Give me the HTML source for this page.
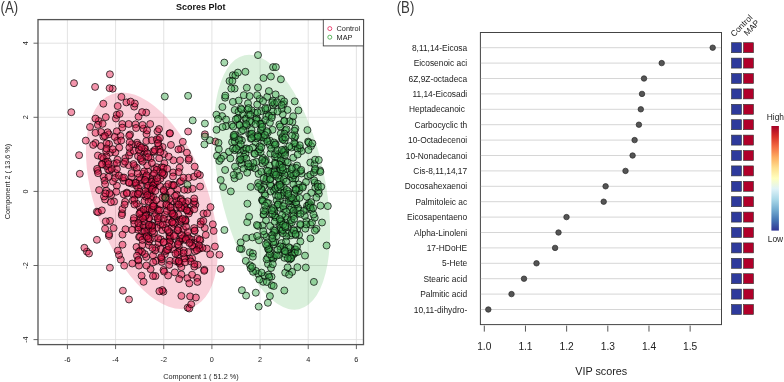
<!DOCTYPE html><html><head><meta charset="utf-8"><style>html,body{margin:0;padding:0;background:#fff;width:784px;height:382px;overflow:hidden}svg{display:block;will-change:transform}text{font-family:"Liberation Sans",sans-serif}</style></head><body>
<svg width="784" height="382" viewBox="0 0 784 382">
<text x="0.6" y="12.7" font-size="16.3" fill="#3a3a3a" textLength="17.6" lengthAdjust="spacingAndGlyphs">(A)</text>
<text x="396.7" y="12.7" font-size="16.3" fill="#3a3a3a" textLength="17.6" lengthAdjust="spacingAndGlyphs">(B)</text>
<text x="200.8" y="9.6" font-size="9" font-weight="bold" text-anchor="middle" fill="#111">Scores Plot</text>
<line x1="67.42" y1="19.6" x2="67.42" y2="344.6" stroke="#dcdcdc" stroke-width="0.8"/>
<line x1="115.58" y1="19.6" x2="115.58" y2="344.6" stroke="#dcdcdc" stroke-width="0.8"/>
<line x1="163.74" y1="19.6" x2="163.74" y2="344.6" stroke="#dcdcdc" stroke-width="0.8"/>
<line x1="211.90" y1="19.6" x2="211.90" y2="344.6" stroke="#dcdcdc" stroke-width="0.8"/>
<line x1="260.06" y1="19.6" x2="260.06" y2="344.6" stroke="#dcdcdc" stroke-width="0.8"/>
<line x1="308.22" y1="19.6" x2="308.22" y2="344.6" stroke="#dcdcdc" stroke-width="0.8"/>
<line x1="356.38" y1="19.6" x2="356.38" y2="344.6" stroke="#dcdcdc" stroke-width="0.8"/>
<line x1="38.0" y1="339.60" x2="363.5" y2="339.60" stroke="#dcdcdc" stroke-width="0.8"/>
<line x1="38.0" y1="265.50" x2="363.5" y2="265.50" stroke="#dcdcdc" stroke-width="0.8"/>
<line x1="38.0" y1="191.40" x2="363.5" y2="191.40" stroke="#dcdcdc" stroke-width="0.8"/>
<line x1="38.0" y1="117.30" x2="363.5" y2="117.30" stroke="#dcdcdc" stroke-width="0.8"/>
<line x1="38.0" y1="43.20" x2="363.5" y2="43.20" stroke="#dcdcdc" stroke-width="0.8"/>
<defs><clipPath id="clipA"><rect x="38" y="19.6" width="325.5" height="325"/></clipPath></defs>
<g clip-path="url(#clipA)">
<ellipse cx="151.9" cy="200.8" rx="113.8" ry="56.0" transform="rotate(69.4 151.9 200.8)" fill="rgba(228,20,70,0.2)"/>
<ellipse cx="271.8" cy="182.2" rx="129.9" ry="52.7" transform="rotate(77.9 271.8 182.2)" fill="rgba(70,180,80,0.2)"/>
<g fill="rgba(228,20,70,0.45)" stroke="#000" stroke-width="0.7">
<circle cx="149.2" cy="209.6" r="3.5"/>
<circle cx="130.1" cy="134.5" r="3.5"/>
<circle cx="155.5" cy="276.0" r="3.5"/>
<circle cx="163.4" cy="291.7" r="3.5"/>
<circle cx="116.9" cy="185.7" r="3.5"/>
<circle cx="178.3" cy="230.5" r="3.5"/>
<circle cx="181.3" cy="267.1" r="3.5"/>
<circle cx="169.3" cy="238.8" r="3.5"/>
<circle cx="162.6" cy="147.0" r="3.5"/>
<circle cx="164.4" cy="163.3" r="3.5"/>
<circle cx="98.7" cy="121.0" r="3.5"/>
<circle cx="163.1" cy="171.8" r="3.5"/>
<circle cx="199.4" cy="248.8" r="3.5"/>
<circle cx="153.0" cy="175.0" r="3.5"/>
<circle cx="179.9" cy="241.4" r="3.5"/>
<circle cx="123.7" cy="180.8" r="3.5"/>
<circle cx="108.9" cy="134.3" r="3.5"/>
<circle cx="172.8" cy="201.2" r="3.5"/>
<circle cx="95.1" cy="86.9" r="3.5"/>
<circle cx="139.8" cy="219.1" r="3.5"/>
<circle cx="109.6" cy="170.4" r="3.5"/>
<circle cx="153.1" cy="196.9" r="3.5"/>
<circle cx="146.6" cy="214.8" r="3.5"/>
<circle cx="166.3" cy="186.8" r="3.5"/>
<circle cx="113.6" cy="228.1" r="3.5"/>
<circle cx="97.9" cy="124.9" r="3.5"/>
<circle cx="136.5" cy="247.0" r="3.5"/>
<circle cx="146.4" cy="232.4" r="3.5"/>
<circle cx="141.2" cy="160.0" r="3.5"/>
<circle cx="173.1" cy="249.4" r="3.5"/>
<circle cx="115.9" cy="118.5" r="3.5"/>
<circle cx="178.7" cy="227.8" r="3.5"/>
<circle cx="129.2" cy="135.7" r="3.5"/>
<circle cx="123.8" cy="194.4" r="3.5"/>
<circle cx="164.1" cy="154.0" r="3.5"/>
<circle cx="142.2" cy="245.1" r="3.5"/>
<circle cx="97.6" cy="170.9" r="3.5"/>
<circle cx="139.9" cy="225.9" r="3.5"/>
<circle cx="159.8" cy="171.4" r="3.5"/>
<circle cx="140.1" cy="212.7" r="3.5"/>
<circle cx="179.8" cy="182.1" r="3.5"/>
<circle cx="188.6" cy="177.7" r="3.5"/>
<circle cx="133.6" cy="220.3" r="3.5"/>
<circle cx="162.3" cy="290.1" r="3.5"/>
<circle cx="105.1" cy="228.8" r="3.5"/>
<circle cx="164.4" cy="196.7" r="3.5"/>
<circle cx="187.4" cy="278.2" r="3.5"/>
<circle cx="189.4" cy="258.5" r="3.5"/>
<circle cx="199.4" cy="248.0" r="3.5"/>
<circle cx="171.6" cy="227.4" r="3.5"/>
<circle cx="144.4" cy="180.3" r="3.5"/>
<circle cx="181.0" cy="198.7" r="3.5"/>
<circle cx="144.3" cy="236.7" r="3.5"/>
<circle cx="131.9" cy="183.6" r="3.5"/>
<circle cx="186.9" cy="152.7" r="3.5"/>
<circle cx="168.1" cy="219.4" r="3.5"/>
<circle cx="212.8" cy="224.3" r="3.5"/>
<circle cx="156.7" cy="167.2" r="3.5"/>
<circle cx="117.3" cy="140.8" r="3.5"/>
<circle cx="85.8" cy="140.6" r="3.5"/>
<circle cx="184.8" cy="258.4" r="3.5"/>
<circle cx="177.8" cy="254.5" r="3.5"/>
<circle cx="125.5" cy="229.3" r="3.5"/>
<circle cx="152.5" cy="179.0" r="3.5"/>
<circle cx="181.0" cy="148.9" r="3.5"/>
<circle cx="140.5" cy="152.9" r="3.5"/>
<circle cx="200.8" cy="221.5" r="3.5"/>
<circle cx="184.3" cy="236.7" r="3.5"/>
<circle cx="148.9" cy="245.2" r="3.5"/>
<circle cx="170.4" cy="240.2" r="3.5"/>
<circle cx="160.9" cy="239.4" r="3.5"/>
<circle cx="134.1" cy="165.9" r="3.5"/>
<circle cx="165.5" cy="194.2" r="3.5"/>
<circle cx="134.2" cy="106.6" r="3.5"/>
<circle cx="120.5" cy="135.9" r="3.5"/>
<circle cx="191.5" cy="239.6" r="3.5"/>
<circle cx="139.1" cy="237.0" r="3.5"/>
<circle cx="173.2" cy="172.5" r="3.5"/>
<circle cx="182.8" cy="141.8" r="3.5"/>
<circle cx="173.1" cy="184.7" r="3.5"/>
<circle cx="204.9" cy="134.3" r="3.5"/>
<circle cx="161.2" cy="258.1" r="3.5"/>
<circle cx="181.4" cy="274.4" r="3.5"/>
<circle cx="184.7" cy="208.4" r="3.5"/>
<circle cx="102.5" cy="164.6" r="3.5"/>
<circle cx="143.0" cy="173.7" r="3.5"/>
<circle cx="108.9" cy="235.9" r="3.5"/>
<circle cx="189.3" cy="211.2" r="3.5"/>
<circle cx="156.1" cy="247.7" r="3.5"/>
<circle cx="117.5" cy="159.7" r="3.5"/>
<circle cx="185.7" cy="203.1" r="3.5"/>
<circle cx="138.0" cy="156.1" r="3.5"/>
<circle cx="151.6" cy="225.2" r="3.5"/>
<circle cx="136.3" cy="182.8" r="3.5"/>
<circle cx="103.4" cy="136.7" r="3.5"/>
<circle cx="151.3" cy="199.8" r="3.5"/>
<circle cx="166.2" cy="198.4" r="3.5"/>
<circle cx="158.3" cy="140.0" r="3.5"/>
<circle cx="195.4" cy="204.7" r="3.5"/>
<circle cx="95.5" cy="143.0" r="3.5"/>
<circle cx="148.1" cy="171.7" r="3.5"/>
<circle cx="101.0" cy="132.0" r="3.5"/>
<circle cx="157.5" cy="131.3" r="3.5"/>
<circle cx="141.2" cy="218.5" r="3.5"/>
<circle cx="131.5" cy="177.0" r="3.5"/>
<circle cx="148.7" cy="233.0" r="3.5"/>
<circle cx="194.8" cy="242.9" r="3.5"/>
<circle cx="145.6" cy="209.6" r="3.5"/>
<circle cx="152.8" cy="207.9" r="3.5"/>
<circle cx="160.8" cy="249.0" r="3.5"/>
<circle cx="181.2" cy="238.8" r="3.5"/>
<circle cx="151.2" cy="226.3" r="3.5"/>
<circle cx="188.0" cy="252.1" r="3.5"/>
<circle cx="140.2" cy="250.6" r="3.5"/>
<circle cx="178.3" cy="214.8" r="3.5"/>
<circle cx="157.6" cy="209.1" r="3.5"/>
<circle cx="121.2" cy="140.5" r="3.5"/>
<circle cx="136.7" cy="167.8" r="3.5"/>
<circle cx="146.1" cy="214.9" r="3.5"/>
<circle cx="161.7" cy="167.3" r="3.5"/>
<circle cx="178.1" cy="262.0" r="3.5"/>
<circle cx="197.2" cy="277.9" r="3.5"/>
<circle cx="109.0" cy="144.0" r="3.5"/>
<circle cx="134.8" cy="103.5" r="3.5"/>
<circle cx="128.8" cy="182.3" r="3.5"/>
<circle cx="145.5" cy="226.9" r="3.5"/>
<circle cx="156.0" cy="260.9" r="3.5"/>
<circle cx="146.7" cy="237.0" r="3.5"/>
<circle cx="113.0" cy="181.6" r="3.5"/>
<circle cx="178.8" cy="246.0" r="3.5"/>
<circle cx="172.2" cy="212.9" r="3.5"/>
<circle cx="115.4" cy="173.1" r="3.5"/>
<circle cx="177.1" cy="204.3" r="3.5"/>
<circle cx="187.7" cy="307.7" r="3.5"/>
<circle cx="154.6" cy="185.9" r="3.5"/>
<circle cx="137.0" cy="142.7" r="3.5"/>
<circle cx="99.1" cy="190.1" r="3.5"/>
<circle cx="210.5" cy="207.1" r="3.5"/>
<circle cx="173.0" cy="176.4" r="3.5"/>
<circle cx="126.9" cy="192.6" r="3.5"/>
<circle cx="93.2" cy="144.9" r="3.5"/>
<circle cx="190.7" cy="242.4" r="3.5"/>
<circle cx="146.2" cy="256.9" r="3.5"/>
<circle cx="145.1" cy="148.7" r="3.5"/>
<circle cx="144.8" cy="254.1" r="3.5"/>
<circle cx="135.1" cy="194.7" r="3.5"/>
<circle cx="148.9" cy="241.5" r="3.5"/>
<circle cx="108.2" cy="169.6" r="3.5"/>
<circle cx="125.3" cy="158.2" r="3.5"/>
<circle cx="187.6" cy="236.0" r="3.5"/>
<circle cx="176.8" cy="200.9" r="3.5"/>
<circle cx="138.2" cy="260.5" r="3.5"/>
<circle cx="144.5" cy="201.1" r="3.5"/>
<circle cx="150.5" cy="192.8" r="3.5"/>
<circle cx="132.6" cy="200.6" r="3.5"/>
<circle cx="154.1" cy="237.9" r="3.5"/>
<circle cx="154.3" cy="169.0" r="3.5"/>
<circle cx="181.4" cy="295.9" r="3.5"/>
<circle cx="176.7" cy="207.4" r="3.5"/>
<circle cx="139.7" cy="180.5" r="3.5"/>
<circle cx="204.3" cy="269.8" r="3.5"/>
<circle cx="103.6" cy="158.4" r="3.5"/>
<circle cx="172.0" cy="222.1" r="3.5"/>
<circle cx="173.6" cy="216.9" r="3.5"/>
<circle cx="154.4" cy="151.8" r="3.5"/>
<circle cx="119.2" cy="147.6" r="3.5"/>
<circle cx="163.0" cy="175.5" r="3.5"/>
<circle cx="163.5" cy="270.0" r="3.5"/>
<circle cx="148.9" cy="218.5" r="3.5"/>
<circle cx="136.1" cy="185.4" r="3.5"/>
<circle cx="140.0" cy="236.8" r="3.5"/>
<circle cx="206.8" cy="248.6" r="3.5"/>
<circle cx="96.9" cy="211.7" r="3.5"/>
<circle cx="125.1" cy="201.8" r="3.5"/>
<circle cx="188.6" cy="160.3" r="3.5"/>
<circle cx="86.9" cy="251.6" r="3.5"/>
<circle cx="160.4" cy="225.2" r="3.5"/>
<circle cx="150.6" cy="187.7" r="3.5"/>
<circle cx="169.6" cy="133.5" r="3.5"/>
<circle cx="161.8" cy="261.9" r="3.5"/>
<circle cx="142.0" cy="251.9" r="3.5"/>
<circle cx="178.7" cy="241.8" r="3.5"/>
<circle cx="165.5" cy="197.2" r="3.5"/>
<circle cx="126.4" cy="102.4" r="3.5"/>
<circle cx="182.4" cy="238.3" r="3.5"/>
<circle cx="166.3" cy="205.7" r="3.5"/>
<circle cx="172.0" cy="185.3" r="3.5"/>
<circle cx="141.6" cy="275.7" r="3.5"/>
<circle cx="129.1" cy="155.3" r="3.5"/>
<circle cx="110.2" cy="152.7" r="3.5"/>
<circle cx="146.2" cy="112.6" r="3.5"/>
<circle cx="189.3" cy="283.4" r="3.5"/>
<circle cx="144.7" cy="151.4" r="3.5"/>
<circle cx="160.4" cy="178.8" r="3.5"/>
<circle cx="147.2" cy="181.8" r="3.5"/>
<circle cx="137.9" cy="194.6" r="3.5"/>
<circle cx="115.1" cy="178.0" r="3.5"/>
<circle cx="137.6" cy="144.8" r="3.5"/>
<circle cx="168.4" cy="184.1" r="3.5"/>
<circle cx="139.2" cy="206.5" r="3.5"/>
<circle cx="132.9" cy="194.1" r="3.5"/>
<circle cx="126.9" cy="193.5" r="3.5"/>
<circle cx="177.5" cy="189.6" r="3.5"/>
<circle cx="116.8" cy="114.8" r="3.5"/>
<circle cx="130.1" cy="152.3" r="3.5"/>
<circle cx="148.6" cy="226.2" r="3.5"/>
<circle cx="194.5" cy="231.1" r="3.5"/>
<circle cx="158.1" cy="220.2" r="3.5"/>
<circle cx="173.2" cy="214.6" r="3.5"/>
<circle cx="153.0" cy="255.4" r="3.5"/>
<circle cx="153.0" cy="181.2" r="3.5"/>
<circle cx="147.8" cy="208.4" r="3.5"/>
<circle cx="147.0" cy="193.1" r="3.5"/>
<circle cx="189.6" cy="211.0" r="3.5"/>
<circle cx="106.5" cy="156.3" r="3.5"/>
<circle cx="148.9" cy="194.3" r="3.5"/>
<circle cx="173.8" cy="185.3" r="3.5"/>
<circle cx="146.1" cy="196.8" r="3.5"/>
<circle cx="170.0" cy="237.2" r="3.5"/>
<circle cx="113.9" cy="164.0" r="3.5"/>
<circle cx="153.2" cy="262.3" r="3.5"/>
<circle cx="109.9" cy="267.7" r="3.5"/>
<circle cx="214.9" cy="246.5" r="3.5"/>
<circle cx="116.8" cy="131.3" r="3.5"/>
<circle cx="144.1" cy="171.5" r="3.5"/>
<circle cx="154.0" cy="233.0" r="3.5"/>
<circle cx="128.7" cy="124.0" r="3.5"/>
<circle cx="110.0" cy="220.9" r="3.5"/>
<circle cx="138.5" cy="116.7" r="3.5"/>
<circle cx="141.3" cy="230.9" r="3.5"/>
<circle cx="146.3" cy="141.0" r="3.5"/>
<circle cx="192.1" cy="258.4" r="3.5"/>
<circle cx="210.2" cy="254.3" r="3.5"/>
<circle cx="193.3" cy="203.8" r="3.5"/>
<circle cx="90.0" cy="127.0" r="3.5"/>
<circle cx="128.6" cy="165.2" r="3.5"/>
<circle cx="194.4" cy="201.5" r="3.5"/>
<circle cx="137.9" cy="229.7" r="3.5"/>
<circle cx="167.0" cy="223.0" r="3.5"/>
<circle cx="144.4" cy="148.6" r="3.5"/>
<circle cx="138.8" cy="251.7" r="3.5"/>
<circle cx="146.5" cy="134.1" r="3.5"/>
<circle cx="137.0" cy="255.7" r="3.5"/>
<circle cx="147.9" cy="187.6" r="3.5"/>
<circle cx="153.1" cy="151.4" r="3.5"/>
<circle cx="138.4" cy="227.4" r="3.5"/>
<circle cx="171.8" cy="244.7" r="3.5"/>
<circle cx="164.9" cy="254.1" r="3.5"/>
<circle cx="119.6" cy="113.9" r="3.5"/>
<circle cx="163.5" cy="167.7" r="3.5"/>
<circle cx="160.6" cy="204.4" r="3.5"/>
<circle cx="79.1" cy="155.2" r="3.5"/>
<circle cx="158.7" cy="242.9" r="3.5"/>
<circle cx="139.0" cy="265.6" r="3.5"/>
<circle cx="197.7" cy="264.8" r="3.5"/>
<circle cx="154.2" cy="216.5" r="3.5"/>
<circle cx="204.8" cy="228.0" r="3.5"/>
<circle cx="131.9" cy="144.2" r="3.5"/>
<circle cx="180.2" cy="219.7" r="3.5"/>
<circle cx="192.6" cy="188.8" r="3.5"/>
<circle cx="188.9" cy="238.4" r="3.5"/>
<circle cx="159.5" cy="149.2" r="3.5"/>
<circle cx="150.6" cy="158.3" r="3.5"/>
<circle cx="123.7" cy="163.8" r="3.5"/>
<circle cx="168.8" cy="206.1" r="3.5"/>
<circle cx="122.1" cy="213.3" r="3.5"/>
<circle cx="170.0" cy="260.8" r="3.5"/>
<circle cx="143.5" cy="225.6" r="3.5"/>
<circle cx="164.1" cy="271.6" r="3.5"/>
<circle cx="133.9" cy="218.1" r="3.5"/>
<circle cx="176.6" cy="194.7" r="3.5"/>
<circle cx="143.6" cy="281.8" r="3.5"/>
<circle cx="183.2" cy="229.3" r="3.5"/>
<circle cx="151.1" cy="196.9" r="3.5"/>
<circle cx="161.9" cy="259.3" r="3.5"/>
<circle cx="136.8" cy="203.7" r="3.5"/>
<circle cx="117.7" cy="106.0" r="3.5"/>
<circle cx="170.0" cy="133.2" r="3.5"/>
<circle cx="163.8" cy="191.1" r="3.5"/>
<circle cx="106.4" cy="190.7" r="3.5"/>
<circle cx="179.1" cy="261.8" r="3.5"/>
<circle cx="143.0" cy="194.2" r="3.5"/>
<circle cx="152.0" cy="210.0" r="3.5"/>
<circle cx="151.7" cy="182.0" r="3.5"/>
<circle cx="132.3" cy="263.5" r="3.5"/>
<circle cx="174.4" cy="234.9" r="3.5"/>
<circle cx="147.2" cy="165.4" r="3.5"/>
<circle cx="159.2" cy="158.2" r="3.5"/>
<circle cx="84.4" cy="247.8" r="3.5"/>
<circle cx="156.9" cy="169.9" r="3.5"/>
<circle cx="179.7" cy="251.2" r="3.5"/>
<circle cx="190.7" cy="261.4" r="3.5"/>
<circle cx="142.3" cy="239.9" r="3.5"/>
<circle cx="194.3" cy="266.6" r="3.5"/>
<circle cx="200.6" cy="224.3" r="3.5"/>
<circle cx="187.7" cy="189.7" r="3.5"/>
<circle cx="169.4" cy="199.4" r="3.5"/>
<circle cx="158.8" cy="222.1" r="3.5"/>
<circle cx="165.8" cy="251.0" r="3.5"/>
<circle cx="179.8" cy="263.6" r="3.5"/>
<circle cx="173.4" cy="160.3" r="3.5"/>
<circle cx="103.3" cy="103.7" r="3.5"/>
<circle cx="79.8" cy="173.8" r="3.5"/>
<circle cx="145.7" cy="156.8" r="3.5"/>
<circle cx="140.2" cy="185.3" r="3.5"/>
<circle cx="194.1" cy="228.1" r="3.5"/>
<circle cx="202.5" cy="247.9" r="3.5"/>
<circle cx="131.5" cy="173.1" r="3.5"/>
<circle cx="153.7" cy="205.8" r="3.5"/>
<circle cx="187.6" cy="201.3" r="3.5"/>
<circle cx="133.8" cy="150.8" r="3.5"/>
<circle cx="159.4" cy="291.2" r="3.5"/>
<circle cx="151.8" cy="226.4" r="3.5"/>
<circle cx="181.0" cy="181.1" r="3.5"/>
<circle cx="97.1" cy="168.9" r="3.5"/>
<circle cx="185.7" cy="240.1" r="3.5"/>
<circle cx="187.9" cy="231.9" r="3.5"/>
<circle cx="151.8" cy="140.3" r="3.5"/>
<circle cx="122.4" cy="177.8" r="3.5"/>
<circle cx="156.8" cy="227.9" r="3.5"/>
<circle cx="188.1" cy="131.5" r="3.5"/>
<circle cx="162.3" cy="230.1" r="3.5"/>
<circle cx="178.4" cy="149.4" r="3.5"/>
<circle cx="101.0" cy="146.1" r="3.5"/>
<circle cx="188.8" cy="213.5" r="3.5"/>
<circle cx="144.2" cy="221.3" r="3.5"/>
<circle cx="203.5" cy="213.6" r="3.5"/>
<circle cx="194.7" cy="166.6" r="3.5"/>
<circle cx="174.3" cy="215.3" r="3.5"/>
<circle cx="156.9" cy="139.3" r="3.5"/>
<circle cx="121.4" cy="96.9" r="3.5"/>
<circle cx="162.5" cy="197.4" r="3.5"/>
<circle cx="95.5" cy="118.6" r="3.5"/>
<circle cx="139.2" cy="177.4" r="3.5"/>
<circle cx="169.5" cy="241.9" r="3.5"/>
<circle cx="134.3" cy="223.8" r="3.5"/>
<circle cx="169.2" cy="264.9" r="3.5"/>
<circle cx="105.1" cy="199.5" r="3.5"/>
<circle cx="104.0" cy="196.5" r="3.5"/>
<circle cx="166.3" cy="204.1" r="3.5"/>
<circle cx="153.3" cy="203.5" r="3.5"/>
<circle cx="143.4" cy="128.6" r="3.5"/>
<circle cx="194.3" cy="209.2" r="3.5"/>
<circle cx="97.9" cy="155.5" r="3.5"/>
<circle cx="171.2" cy="210.7" r="3.5"/>
<circle cx="74.0" cy="83.2" r="3.5"/>
<circle cx="183.8" cy="250.6" r="3.5"/>
<circle cx="105.8" cy="221.4" r="3.5"/>
<circle cx="121.8" cy="215.1" r="3.5"/>
<circle cx="169.5" cy="235.8" r="3.5"/>
<circle cx="170.6" cy="191.8" r="3.5"/>
<circle cx="169.0" cy="232.5" r="3.5"/>
<circle cx="192.1" cy="274.7" r="3.5"/>
<circle cx="148.0" cy="185.7" r="3.5"/>
<circle cx="135.6" cy="183.0" r="3.5"/>
<circle cx="203.3" cy="220.9" r="3.5"/>
<circle cx="159.9" cy="138.0" r="3.5"/>
<circle cx="154.3" cy="184.3" r="3.5"/>
<circle cx="169.5" cy="231.8" r="3.5"/>
<circle cx="155.1" cy="182.6" r="3.5"/>
<circle cx="185.4" cy="221.6" r="3.5"/>
<circle cx="105.8" cy="117.1" r="3.5"/>
<circle cx="116.8" cy="163.1" r="3.5"/>
<circle cx="159.9" cy="186.2" r="3.5"/>
<circle cx="163.6" cy="190.0" r="3.5"/>
<circle cx="147.4" cy="153.3" r="3.5"/>
<circle cx="183.4" cy="177.7" r="3.5"/>
<circle cx="152.4" cy="228.0" r="3.5"/>
<circle cx="184.2" cy="258.3" r="3.5"/>
<circle cx="148.4" cy="229.0" r="3.5"/>
<circle cx="194.2" cy="198.5" r="3.5"/>
<circle cx="158.2" cy="238.3" r="3.5"/>
<circle cx="181.2" cy="220.0" r="3.5"/>
<circle cx="106.4" cy="165.9" r="3.5"/>
<circle cx="160.1" cy="216.6" r="3.5"/>
<circle cx="181.7" cy="235.0" r="3.5"/>
<circle cx="138.1" cy="188.2" r="3.5"/>
<circle cx="177.7" cy="252.2" r="3.5"/>
<circle cx="155.3" cy="250.4" r="3.5"/>
<circle cx="139.7" cy="191.9" r="3.5"/>
<circle cx="146.1" cy="176.8" r="3.5"/>
<circle cx="146.6" cy="175.4" r="3.5"/>
<circle cx="158.5" cy="145.7" r="3.5"/>
<circle cx="200.3" cy="240.5" r="3.5"/>
<circle cx="105.8" cy="161.8" r="3.5"/>
<circle cx="114.7" cy="136.9" r="3.5"/>
<circle cx="185.1" cy="262.3" r="3.5"/>
<circle cx="140.0" cy="146.0" r="3.5"/>
<circle cx="112.7" cy="88.7" r="3.5"/>
<circle cx="122.5" cy="234.6" r="3.5"/>
<circle cx="134.3" cy="199.5" r="3.5"/>
<circle cx="190.1" cy="296.4" r="3.5"/>
<circle cx="147.1" cy="130.4" r="3.5"/>
<circle cx="186.8" cy="209.7" r="3.5"/>
<circle cx="153.0" cy="185.5" r="3.5"/>
<circle cx="219.4" cy="254.7" r="3.5"/>
<circle cx="186.1" cy="226.7" r="3.5"/>
<circle cx="183.6" cy="253.2" r="3.5"/>
<circle cx="159.0" cy="129.1" r="3.5"/>
<circle cx="148.6" cy="201.5" r="3.5"/>
<circle cx="199.9" cy="175.1" r="3.5"/>
<circle cx="120.8" cy="259.7" r="3.5"/>
<circle cx="152.6" cy="230.9" r="3.5"/>
<circle cx="154.9" cy="149.9" r="3.5"/>
<circle cx="164.2" cy="174.0" r="3.5"/>
<circle cx="151.9" cy="162.9" r="3.5"/>
<circle cx="129.1" cy="182.8" r="3.5"/>
<circle cx="156.0" cy="213.7" r="3.5"/>
<circle cx="119.0" cy="175.6" r="3.5"/>
<circle cx="162.3" cy="172.9" r="3.5"/>
<circle cx="179.6" cy="167.7" r="3.5"/>
<circle cx="144.0" cy="216.6" r="3.5"/>
<circle cx="168.1" cy="249.8" r="3.5"/>
<circle cx="133.5" cy="164.1" r="3.5"/>
<circle cx="129.7" cy="142.3" r="3.5"/>
<circle cx="145.5" cy="191.2" r="3.5"/>
<circle cx="197.3" cy="238.4" r="3.5"/>
<circle cx="197.4" cy="281.9" r="3.5"/>
<circle cx="200.1" cy="186.5" r="3.5"/>
<circle cx="109.6" cy="88.2" r="3.5"/>
<circle cx="148.4" cy="157.2" r="3.5"/>
<circle cx="107.9" cy="161.6" r="3.5"/>
<circle cx="111.2" cy="194.9" r="3.5"/>
<circle cx="116.9" cy="169.1" r="3.5"/>
<circle cx="167.2" cy="168.7" r="3.5"/>
<circle cx="152.6" cy="188.4" r="3.5"/>
<circle cx="138.3" cy="259.9" r="3.5"/>
<circle cx="152.4" cy="248.0" r="3.5"/>
<circle cx="180.0" cy="207.4" r="3.5"/>
<circle cx="175.1" cy="195.9" r="3.5"/>
<circle cx="111.6" cy="168.9" r="3.5"/>
<circle cx="189.3" cy="308.5" r="3.5"/>
<circle cx="207.1" cy="213.3" r="3.5"/>
<circle cx="165.6" cy="228.0" r="3.5"/>
<circle cx="125.1" cy="161.7" r="3.5"/>
<circle cx="119.0" cy="255.0" r="3.5"/>
<circle cx="157.5" cy="181.3" r="3.5"/>
<circle cx="149.9" cy="239.4" r="3.5"/>
<circle cx="172.1" cy="213.6" r="3.5"/>
<circle cx="167.8" cy="230.0" r="3.5"/>
<circle cx="71.3" cy="112.2" r="3.5"/>
<circle cx="122.3" cy="124.0" r="3.5"/>
<circle cx="98.1" cy="212.3" r="3.5"/>
<circle cx="89.0" cy="253.5" r="3.5"/>
<circle cx="156.9" cy="178.1" r="3.5"/>
<circle cx="170.9" cy="144.9" r="3.5"/>
<circle cx="107.6" cy="132.3" r="3.5"/>
<circle cx="101.8" cy="157.1" r="3.5"/>
<circle cx="104.9" cy="136.0" r="3.5"/>
<circle cx="103.6" cy="176.9" r="3.5"/>
<circle cx="140.8" cy="211.4" r="3.5"/>
<circle cx="143.5" cy="209.7" r="3.5"/>
<circle cx="180.7" cy="199.9" r="3.5"/>
<circle cx="174.0" cy="236.1" r="3.5"/>
<circle cx="158.2" cy="210.3" r="3.5"/>
<circle cx="154.1" cy="173.4" r="3.5"/>
<circle cx="174.8" cy="272.4" r="3.5"/>
<circle cx="117.8" cy="250.6" r="3.5"/>
<circle cx="150.6" cy="269.2" r="3.5"/>
<circle cx="138.3" cy="223.0" r="3.5"/>
<circle cx="164.8" cy="214.6" r="3.5"/>
<circle cx="142.5" cy="124.9" r="3.5"/>
<circle cx="144.8" cy="231.4" r="3.5"/>
<circle cx="184.3" cy="189.8" r="3.5"/>
<circle cx="149.0" cy="218.2" r="3.5"/>
<circle cx="184.3" cy="206.3" r="3.5"/>
<circle cx="194.4" cy="264.0" r="3.5"/>
<circle cx="135.5" cy="124.3" r="3.5"/>
<circle cx="145.4" cy="216.0" r="3.5"/>
<circle cx="163.5" cy="242.4" r="3.5"/>
<circle cx="175.5" cy="260.8" r="3.5"/>
<circle cx="199.7" cy="239.5" r="3.5"/>
<circle cx="180.1" cy="160.3" r="3.5"/>
<circle cx="159.8" cy="210.4" r="3.5"/>
<circle cx="108.5" cy="176.9" r="3.5"/>
<circle cx="137.7" cy="173.4" r="3.5"/>
<circle cx="138.0" cy="193.8" r="3.5"/>
<circle cx="146.7" cy="236.3" r="3.5"/>
<circle cx="168.1" cy="275.5" r="3.5"/>
<circle cx="122.3" cy="127.6" r="3.5"/>
<circle cx="138.9" cy="149.8" r="3.5"/>
<circle cx="180.5" cy="221.7" r="3.5"/>
<circle cx="101.8" cy="164.2" r="3.5"/>
<circle cx="182.4" cy="201.5" r="3.5"/>
<circle cx="124.2" cy="265.6" r="3.5"/>
<circle cx="153.2" cy="206.3" r="3.5"/>
<circle cx="122.4" cy="209.0" r="3.5"/>
<circle cx="106.1" cy="150.9" r="3.5"/>
<circle cx="141.6" cy="147.5" r="3.5"/>
<circle cx="101.8" cy="210.4" r="3.5"/>
<circle cx="178.8" cy="261.0" r="3.5"/>
<circle cx="102.6" cy="123.8" r="3.5"/>
<circle cx="186.0" cy="239.1" r="3.5"/>
<circle cx="160.3" cy="152.1" r="3.5"/>
<circle cx="153.0" cy="276.0" r="3.5"/>
<circle cx="179.1" cy="279.1" r="3.5"/>
<circle cx="143.0" cy="218.3" r="3.5"/>
<circle cx="163.7" cy="218.8" r="3.5"/>
<circle cx="177.6" cy="230.1" r="3.5"/>
<circle cx="132.2" cy="229.9" r="3.5"/>
<circle cx="185.3" cy="219.6" r="3.5"/>
<circle cx="109.6" cy="193.2" r="3.5"/>
<circle cx="146.4" cy="265.5" r="3.5"/>
<circle cx="194.7" cy="230.5" r="3.5"/>
<circle cx="139.4" cy="213.8" r="3.5"/>
<circle cx="193.9" cy="176.7" r="3.5"/>
<circle cx="166.9" cy="211.0" r="3.5"/>
<circle cx="170.6" cy="207.4" r="3.5"/>
<circle cx="109.9" cy="74.3" r="3.5"/>
<circle cx="215.3" cy="141.5" r="3.5"/>
<circle cx="136.1" cy="128.0" r="3.5"/>
<circle cx="194.1" cy="247.0" r="3.5"/>
<circle cx="122.5" cy="244.7" r="3.5"/>
<circle cx="151.8" cy="189.5" r="3.5"/>
<circle cx="124.6" cy="204.6" r="3.5"/>
<circle cx="124.0" cy="177.5" r="3.5"/>
<circle cx="142.6" cy="161.6" r="3.5"/>
<circle cx="114.1" cy="201.6" r="3.5"/>
<circle cx="178.7" cy="172.1" r="3.5"/>
<circle cx="175.5" cy="253.6" r="3.5"/>
<circle cx="105.5" cy="193.4" r="3.5"/>
<circle cx="140.7" cy="158.2" r="3.5"/>
<circle cx="115.3" cy="152.5" r="3.5"/>
<circle cx="185.6" cy="220.5" r="3.5"/>
<circle cx="161.2" cy="257.1" r="3.5"/>
<circle cx="96.9" cy="239.8" r="3.5"/>
<circle cx="108.6" cy="164.1" r="3.5"/>
<circle cx="167.0" cy="249.9" r="3.5"/>
<circle cx="95.5" cy="132.8" r="3.5"/>
<circle cx="129.0" cy="299.5" r="3.5"/>
<circle cx="152.1" cy="225.5" r="3.5"/>
<circle cx="148.3" cy="238.3" r="3.5"/>
<circle cx="220.7" cy="268.9" r="3.5"/>
<circle cx="188.9" cy="158.6" r="3.5"/>
<circle cx="181.4" cy="208.1" r="3.5"/>
<circle cx="195.0" cy="251.3" r="3.5"/>
<circle cx="182.6" cy="218.8" r="3.5"/>
<circle cx="157.9" cy="143.2" r="3.5"/>
<circle cx="205.8" cy="234.9" r="3.5"/>
<circle cx="147.3" cy="195.2" r="3.5"/>
<circle cx="112.7" cy="149.2" r="3.5"/>
<circle cx="122.9" cy="290.7" r="3.5"/>
<circle cx="106.5" cy="143.4" r="3.5"/>
<circle cx="162.8" cy="224.5" r="3.5"/>
<circle cx="156.3" cy="200.1" r="3.5"/>
<circle cx="168.7" cy="156.6" r="3.5"/>
<circle cx="150.2" cy="124.0" r="3.5"/>
<circle cx="187.0" cy="210.5" r="3.5"/>
<circle cx="192.1" cy="245.5" r="3.5"/>
<circle cx="168.8" cy="246.6" r="3.5"/>
<circle cx="199.0" cy="245.3" r="3.5"/>
<circle cx="129.4" cy="147.6" r="3.5"/>
<circle cx="116.3" cy="191.7" r="3.5"/>
<circle cx="148.9" cy="224.8" r="3.5"/>
<circle cx="145.1" cy="179.9" r="3.5"/>
<circle cx="196.9" cy="250.2" r="3.5"/>
<circle cx="104.6" cy="180.6" r="3.5"/>
<circle cx="109.1" cy="234.3" r="3.5"/>
<circle cx="175.4" cy="222.7" r="3.5"/>
<circle cx="98.1" cy="173.2" r="3.5"/>
<circle cx="155.4" cy="190.9" r="3.5"/>
<circle cx="163.7" cy="242.0" r="3.5"/>
<circle cx="204.2" cy="270.8" r="3.5"/>
<circle cx="195.9" cy="297.5" r="3.5"/>
<circle cx="213.7" cy="230.9" r="3.5"/>
<circle cx="134.5" cy="204.5" r="3.5"/>
<circle cx="142.1" cy="112.1" r="3.5"/>
<circle cx="110.9" cy="202.2" r="3.5"/>
<circle cx="157.8" cy="218.2" r="3.5"/>
<circle cx="173.5" cy="223.7" r="3.5"/>
<circle cx="189.4" cy="243.0" r="3.5"/>
<circle cx="197.6" cy="173.7" r="3.5"/>
<circle cx="178.7" cy="204.6" r="3.5"/>
<circle cx="191.2" cy="304.3" r="3.5"/>
<circle cx="172.3" cy="222.2" r="3.5"/>
<circle cx="105.1" cy="184.2" r="3.5"/>
<circle cx="106.5" cy="148.5" r="3.5"/>
<circle cx="130.6" cy="101.6" r="3.5"/>
<circle cx="177.9" cy="244.2" r="3.5"/>
</g>
<g fill="rgba(60,172,78,0.46)" stroke="#000" stroke-width="0.7">
<circle cx="218.5" cy="142.8" r="3.5"/>
<circle cx="290.4" cy="248.1" r="3.5"/>
<circle cx="234.7" cy="110.0" r="3.5"/>
<circle cx="301.5" cy="173.5" r="3.5"/>
<circle cx="230.4" cy="158.4" r="3.5"/>
<circle cx="217.0" cy="155.8" r="3.5"/>
<circle cx="300.5" cy="225.1" r="3.5"/>
<circle cx="300.0" cy="148.2" r="3.5"/>
<circle cx="238.5" cy="111.7" r="3.5"/>
<circle cx="265.6" cy="110.0" r="3.5"/>
<circle cx="281.6" cy="243.1" r="3.5"/>
<circle cx="270.3" cy="251.2" r="3.5"/>
<circle cx="240.8" cy="108.3" r="3.5"/>
<circle cx="241.6" cy="249.0" r="3.5"/>
<circle cx="273.1" cy="234.9" r="3.5"/>
<circle cx="296.2" cy="190.5" r="3.5"/>
<circle cx="290.9" cy="235.4" r="3.5"/>
<circle cx="294.7" cy="101.4" r="3.5"/>
<circle cx="224.4" cy="230.0" r="3.5"/>
<circle cx="284.6" cy="203.6" r="3.5"/>
<circle cx="280.8" cy="133.4" r="3.5"/>
<circle cx="271.4" cy="214.4" r="3.5"/>
<circle cx="267.3" cy="176.7" r="3.5"/>
<circle cx="263.5" cy="214.8" r="3.5"/>
<circle cx="294.7" cy="249.5" r="3.5"/>
<circle cx="231.6" cy="124.9" r="3.5"/>
<circle cx="281.6" cy="183.3" r="3.5"/>
<circle cx="270.6" cy="191.5" r="3.5"/>
<circle cx="274.5" cy="146.1" r="3.5"/>
<circle cx="264.5" cy="276.0" r="3.5"/>
<circle cx="294.5" cy="206.8" r="3.5"/>
<circle cx="279.7" cy="171.7" r="3.5"/>
<circle cx="273.0" cy="105.1" r="3.5"/>
<circle cx="307.9" cy="176.3" r="3.5"/>
<circle cx="285.4" cy="130.4" r="3.5"/>
<circle cx="269.9" cy="140.7" r="3.5"/>
<circle cx="279.8" cy="181.9" r="3.5"/>
<circle cx="286.4" cy="219.3" r="3.5"/>
<circle cx="263.0" cy="157.9" r="3.5"/>
<circle cx="246.8" cy="87.7" r="3.5"/>
<circle cx="295.4" cy="146.5" r="3.5"/>
<circle cx="264.1" cy="142.1" r="3.5"/>
<circle cx="297.1" cy="230.0" r="3.5"/>
<circle cx="262.2" cy="200.3" r="3.5"/>
<circle cx="272.0" cy="115.6" r="3.5"/>
<circle cx="292.0" cy="201.4" r="3.5"/>
<circle cx="310.3" cy="162.5" r="3.5"/>
<circle cx="290.2" cy="200.1" r="3.5"/>
<circle cx="279.3" cy="166.5" r="3.5"/>
<circle cx="273.1" cy="67.1" r="3.5"/>
<circle cx="285.3" cy="216.5" r="3.5"/>
<circle cx="239.9" cy="248.8" r="3.5"/>
<circle cx="273.1" cy="111.4" r="3.5"/>
<circle cx="281.6" cy="231.5" r="3.5"/>
<circle cx="297.4" cy="267.2" r="3.5"/>
<circle cx="242.0" cy="159.8" r="3.5"/>
<circle cx="314.7" cy="182.6" r="3.5"/>
<circle cx="247.2" cy="222.2" r="3.5"/>
<circle cx="279.4" cy="166.2" r="3.5"/>
<circle cx="286.8" cy="168.8" r="3.5"/>
<circle cx="285.7" cy="161.2" r="3.5"/>
<circle cx="270.9" cy="186.1" r="3.5"/>
<circle cx="260.4" cy="137.1" r="3.5"/>
<circle cx="165.3" cy="197.8" r="3.5"/>
<circle cx="250.4" cy="166.7" r="3.5"/>
<circle cx="281.2" cy="229.5" r="3.5"/>
<circle cx="282.0" cy="138.5" r="3.5"/>
<circle cx="275.0" cy="156.9" r="3.5"/>
<circle cx="226.0" cy="126.2" r="3.5"/>
<circle cx="255.8" cy="292.7" r="3.5"/>
<circle cx="316.5" cy="228.9" r="3.5"/>
<circle cx="271.6" cy="285.2" r="3.5"/>
<circle cx="225.1" cy="97.7" r="3.5"/>
<circle cx="305.8" cy="267.5" r="3.5"/>
<circle cx="267.7" cy="257.6" r="3.5"/>
<circle cx="288.7" cy="201.0" r="3.5"/>
<circle cx="255.1" cy="168.5" r="3.5"/>
<circle cx="315.3" cy="187.8" r="3.5"/>
<circle cx="256.5" cy="117.9" r="3.5"/>
<circle cx="287.4" cy="251.8" r="3.5"/>
<circle cx="265.3" cy="211.5" r="3.5"/>
<circle cx="246.1" cy="295.6" r="3.5"/>
<circle cx="273.4" cy="171.0" r="3.5"/>
<circle cx="223.8" cy="155.8" r="3.5"/>
<circle cx="263.2" cy="281.8" r="3.5"/>
<circle cx="318.8" cy="193.7" r="3.5"/>
<circle cx="310.3" cy="174.8" r="3.5"/>
<circle cx="286.7" cy="233.0" r="3.5"/>
<circle cx="220.7" cy="180.0" r="3.5"/>
<circle cx="308.1" cy="141.6" r="3.5"/>
<circle cx="302.8" cy="186.1" r="3.5"/>
<circle cx="238.5" cy="149.9" r="3.5"/>
<circle cx="268.0" cy="264.0" r="3.5"/>
<circle cx="284.7" cy="140.5" r="3.5"/>
<circle cx="272.3" cy="172.9" r="3.5"/>
<circle cx="249.3" cy="134.1" r="3.5"/>
<circle cx="270.4" cy="153.5" r="3.5"/>
<circle cx="239.6" cy="139.1" r="3.5"/>
<circle cx="250.6" cy="134.2" r="3.5"/>
<circle cx="296.3" cy="204.3" r="3.5"/>
<circle cx="254.3" cy="153.5" r="3.5"/>
<circle cx="258.0" cy="87.4" r="3.5"/>
<circle cx="307.0" cy="205.8" r="3.5"/>
<circle cx="266.4" cy="209.0" r="3.5"/>
<circle cx="281.4" cy="220.9" r="3.5"/>
<circle cx="240.2" cy="156.0" r="3.5"/>
<circle cx="273.8" cy="244.4" r="3.5"/>
<circle cx="261.7" cy="128.7" r="3.5"/>
<circle cx="311.0" cy="146.1" r="3.5"/>
<circle cx="248.0" cy="103.3" r="3.5"/>
<circle cx="238.7" cy="100.6" r="3.5"/>
<circle cx="245.8" cy="260.9" r="3.5"/>
<circle cx="259.7" cy="98.9" r="3.5"/>
<circle cx="274.1" cy="190.6" r="3.5"/>
<circle cx="291.6" cy="207.6" r="3.5"/>
<circle cx="237.0" cy="171.1" r="3.5"/>
<circle cx="252.5" cy="167.0" r="3.5"/>
<circle cx="286.6" cy="129.3" r="3.5"/>
<circle cx="292.4" cy="121.9" r="3.5"/>
<circle cx="263.6" cy="186.2" r="3.5"/>
<circle cx="234.6" cy="178.3" r="3.5"/>
<circle cx="243.8" cy="95.2" r="3.5"/>
<circle cx="279.9" cy="200.3" r="3.5"/>
<circle cx="261.5" cy="189.7" r="3.5"/>
<circle cx="245.3" cy="118.8" r="3.5"/>
<circle cx="258.1" cy="120.4" r="3.5"/>
<circle cx="272.5" cy="129.8" r="3.5"/>
<circle cx="266.6" cy="259.3" r="3.5"/>
<circle cx="273.5" cy="230.0" r="3.5"/>
<circle cx="249.6" cy="96.1" r="3.5"/>
<circle cx="281.1" cy="172.5" r="3.5"/>
<circle cx="245.9" cy="149.0" r="3.5"/>
<circle cx="298.2" cy="208.2" r="3.5"/>
<circle cx="314.2" cy="180.4" r="3.5"/>
<circle cx="241.6" cy="163.8" r="3.5"/>
<circle cx="283.9" cy="209.3" r="3.5"/>
<circle cx="249.8" cy="166.8" r="3.5"/>
<circle cx="327.8" cy="206.1" r="3.5"/>
<circle cx="279.8" cy="170.7" r="3.5"/>
<circle cx="264.5" cy="193.7" r="3.5"/>
<circle cx="279.4" cy="175.4" r="3.5"/>
<circle cx="295.3" cy="128.5" r="3.5"/>
<circle cx="258.2" cy="151.6" r="3.5"/>
<circle cx="249.9" cy="252.4" r="3.5"/>
<circle cx="232.1" cy="142.1" r="3.5"/>
<circle cx="293.2" cy="199.1" r="3.5"/>
<circle cx="283.8" cy="187.2" r="3.5"/>
<circle cx="234.6" cy="88.6" r="3.5"/>
<circle cx="289.9" cy="258.4" r="3.5"/>
<circle cx="260.6" cy="152.3" r="3.5"/>
<circle cx="256.2" cy="119.7" r="3.5"/>
<circle cx="241.9" cy="140.4" r="3.5"/>
<circle cx="275.3" cy="217.1" r="3.5"/>
<circle cx="254.8" cy="112.7" r="3.5"/>
<circle cx="255.5" cy="142.4" r="3.5"/>
<circle cx="317.8" cy="183.8" r="3.5"/>
<circle cx="287.7" cy="162.4" r="3.5"/>
<circle cx="280.9" cy="223.8" r="3.5"/>
<circle cx="291.0" cy="176.7" r="3.5"/>
<circle cx="266.5" cy="138.9" r="3.5"/>
<circle cx="292.1" cy="271.9" r="3.5"/>
<circle cx="294.5" cy="138.1" r="3.5"/>
<circle cx="266.5" cy="237.0" r="3.5"/>
<circle cx="292.8" cy="214.4" r="3.5"/>
<circle cx="290.2" cy="255.8" r="3.5"/>
<circle cx="298.5" cy="184.4" r="3.5"/>
<circle cx="295.3" cy="178.7" r="3.5"/>
<circle cx="261.6" cy="189.1" r="3.5"/>
<circle cx="262.5" cy="225.3" r="3.5"/>
<circle cx="266.0" cy="181.3" r="3.5"/>
<circle cx="265.2" cy="195.5" r="3.5"/>
<circle cx="270.1" cy="226.0" r="3.5"/>
<circle cx="311.3" cy="192.8" r="3.5"/>
<circle cx="266.4" cy="179.1" r="3.5"/>
<circle cx="275.2" cy="176.1" r="3.5"/>
<circle cx="222.1" cy="116.1" r="3.5"/>
<circle cx="306.8" cy="196.8" r="3.5"/>
<circle cx="234.8" cy="150.2" r="3.5"/>
<circle cx="258.0" cy="225.9" r="3.5"/>
<circle cx="270.2" cy="184.1" r="3.5"/>
<circle cx="273.4" cy="257.6" r="3.5"/>
<circle cx="283.7" cy="104.1" r="3.5"/>
<circle cx="238.8" cy="146.0" r="3.5"/>
<circle cx="243.7" cy="168.6" r="3.5"/>
<circle cx="259.6" cy="185.0" r="3.5"/>
<circle cx="232.9" cy="75.2" r="3.5"/>
<circle cx="326.6" cy="245.5" r="3.5"/>
<circle cx="277.6" cy="185.8" r="3.5"/>
<circle cx="279.8" cy="207.8" r="3.5"/>
<circle cx="293.2" cy="157.7" r="3.5"/>
<circle cx="279.4" cy="224.4" r="3.5"/>
<circle cx="223.1" cy="187.0" r="3.5"/>
<circle cx="293.4" cy="184.3" r="3.5"/>
<circle cx="286.4" cy="236.4" r="3.5"/>
<circle cx="234.8" cy="141.7" r="3.5"/>
<circle cx="261.4" cy="135.4" r="3.5"/>
<circle cx="278.4" cy="191.4" r="3.5"/>
<circle cx="275.7" cy="144.1" r="3.5"/>
<circle cx="243.6" cy="150.4" r="3.5"/>
<circle cx="258.1" cy="183.0" r="3.5"/>
<circle cx="290.5" cy="198.3" r="3.5"/>
<circle cx="250.9" cy="138.7" r="3.5"/>
<circle cx="267.2" cy="96.9" r="3.5"/>
<circle cx="301.6" cy="151.0" r="3.5"/>
<circle cx="262.2" cy="199.9" r="3.5"/>
<circle cx="263.8" cy="214.3" r="3.5"/>
<circle cx="257.2" cy="104.5" r="3.5"/>
<circle cx="285.1" cy="152.8" r="3.5"/>
<circle cx="266.5" cy="170.4" r="3.5"/>
<circle cx="310.6" cy="205.0" r="3.5"/>
<circle cx="274.9" cy="215.5" r="3.5"/>
<circle cx="287.0" cy="172.0" r="3.5"/>
<circle cx="258.0" cy="55.1" r="3.5"/>
<circle cx="243.2" cy="114.2" r="3.5"/>
<circle cx="283.3" cy="246.7" r="3.5"/>
<circle cx="258.2" cy="273.8" r="3.5"/>
<circle cx="281.8" cy="163.3" r="3.5"/>
<circle cx="267.9" cy="302.8" r="3.5"/>
<circle cx="279.3" cy="254.9" r="3.5"/>
<circle cx="284.4" cy="133.7" r="3.5"/>
<circle cx="269.9" cy="144.9" r="3.5"/>
<circle cx="267.3" cy="108.1" r="3.5"/>
<circle cx="272.9" cy="100.7" r="3.5"/>
<circle cx="235.4" cy="75.5" r="3.5"/>
<circle cx="311.3" cy="209.8" r="3.5"/>
<circle cx="248.2" cy="166.4" r="3.5"/>
<circle cx="238.8" cy="139.9" r="3.5"/>
<circle cx="264.7" cy="160.6" r="3.5"/>
<circle cx="294.0" cy="253.9" r="3.5"/>
<circle cx="320.0" cy="170.4" r="3.5"/>
<circle cx="251.3" cy="122.3" r="3.5"/>
<circle cx="262.5" cy="163.5" r="3.5"/>
<circle cx="294.1" cy="230.5" r="3.5"/>
<circle cx="225.3" cy="95.6" r="3.5"/>
<circle cx="279.4" cy="124.5" r="3.5"/>
<circle cx="271.2" cy="148.6" r="3.5"/>
<circle cx="289.6" cy="223.6" r="3.5"/>
<circle cx="314.5" cy="164.3" r="3.5"/>
<circle cx="276.0" cy="195.3" r="3.5"/>
<circle cx="296.1" cy="202.3" r="3.5"/>
<circle cx="318.6" cy="190.6" r="3.5"/>
<circle cx="222.4" cy="107.0" r="3.5"/>
<circle cx="275.9" cy="67.1" r="3.5"/>
<circle cx="306.5" cy="221.1" r="3.5"/>
<circle cx="228.9" cy="151.7" r="3.5"/>
<circle cx="204.9" cy="123.5" r="3.5"/>
<circle cx="261.5" cy="272.6" r="3.5"/>
<circle cx="271.9" cy="171.8" r="3.5"/>
<circle cx="226.1" cy="119.5" r="3.5"/>
<circle cx="269.6" cy="173.9" r="3.5"/>
<circle cx="282.3" cy="137.2" r="3.5"/>
<circle cx="275.0" cy="242.0" r="3.5"/>
<circle cx="271.0" cy="268.0" r="3.5"/>
<circle cx="246.8" cy="125.5" r="3.5"/>
<circle cx="306.6" cy="209.0" r="3.5"/>
<circle cx="295.3" cy="143.9" r="3.5"/>
<circle cx="275.5" cy="188.5" r="3.5"/>
<circle cx="297.5" cy="148.5" r="3.5"/>
<circle cx="278.7" cy="178.4" r="3.5"/>
<circle cx="299.1" cy="190.6" r="3.5"/>
<circle cx="261.0" cy="134.0" r="3.5"/>
<circle cx="279.0" cy="153.7" r="3.5"/>
<circle cx="271.5" cy="276.7" r="3.5"/>
<circle cx="291.8" cy="222.4" r="3.5"/>
<circle cx="188.1" cy="95.8" r="3.5"/>
<circle cx="237.9" cy="72.6" r="3.5"/>
<circle cx="233.6" cy="136.9" r="3.5"/>
<circle cx="252.7" cy="147.4" r="3.5"/>
<circle cx="267.5" cy="242.4" r="3.5"/>
<circle cx="305.3" cy="228.7" r="3.5"/>
<circle cx="274.4" cy="232.8" r="3.5"/>
<circle cx="234.9" cy="134.7" r="3.5"/>
<circle cx="296.3" cy="198.1" r="3.5"/>
<circle cx="260.8" cy="130.1" r="3.5"/>
<circle cx="292.6" cy="178.4" r="3.5"/>
<circle cx="297.0" cy="165.5" r="3.5"/>
<circle cx="295.3" cy="173.7" r="3.5"/>
<circle cx="280.3" cy="169.6" r="3.5"/>
<circle cx="299.2" cy="187.9" r="3.5"/>
<circle cx="246.5" cy="148.4" r="3.5"/>
<circle cx="259.6" cy="146.3" r="3.5"/>
<circle cx="280.7" cy="155.6" r="3.5"/>
<circle cx="280.0" cy="154.8" r="3.5"/>
<circle cx="282.9" cy="233.3" r="3.5"/>
<circle cx="299.6" cy="197.9" r="3.5"/>
<circle cx="270.6" cy="179.1" r="3.5"/>
<circle cx="289.9" cy="209.6" r="3.5"/>
<circle cx="280.6" cy="227.9" r="3.5"/>
<circle cx="297.6" cy="213.8" r="3.5"/>
<circle cx="288.2" cy="191.3" r="3.5"/>
<circle cx="246.3" cy="118.6" r="3.5"/>
<circle cx="240.7" cy="144.2" r="3.5"/>
<circle cx="277.2" cy="157.5" r="3.5"/>
<circle cx="231.3" cy="88.6" r="3.5"/>
<circle cx="286.2" cy="211.5" r="3.5"/>
<circle cx="277.6" cy="187.2" r="3.5"/>
<circle cx="284.2" cy="192.9" r="3.5"/>
<circle cx="299.8" cy="145.3" r="3.5"/>
<circle cx="254.9" cy="153.9" r="3.5"/>
<circle cx="265.8" cy="160.1" r="3.5"/>
<circle cx="261.1" cy="111.1" r="3.5"/>
<circle cx="291.5" cy="147.5" r="3.5"/>
<circle cx="274.6" cy="103.7" r="3.5"/>
<circle cx="247.4" cy="203.7" r="3.5"/>
<circle cx="299.1" cy="234.9" r="3.5"/>
<circle cx="283.9" cy="195.3" r="3.5"/>
<circle cx="216.4" cy="114.7" r="3.5"/>
<circle cx="276.5" cy="236.2" r="3.5"/>
<circle cx="259.0" cy="240.3" r="3.5"/>
<circle cx="268.2" cy="249.3" r="3.5"/>
<circle cx="234.7" cy="136.8" r="3.5"/>
<circle cx="274.9" cy="162.8" r="3.5"/>
<circle cx="222.6" cy="127.0" r="3.5"/>
<circle cx="268.9" cy="91.1" r="3.5"/>
<circle cx="273.3" cy="258.6" r="3.5"/>
<circle cx="280.6" cy="186.9" r="3.5"/>
<circle cx="298.7" cy="210.2" r="3.5"/>
<circle cx="272.2" cy="102.3" r="3.5"/>
<circle cx="281.4" cy="98.9" r="3.5"/>
<circle cx="241.5" cy="109.4" r="3.5"/>
<circle cx="289.5" cy="259.6" r="3.5"/>
<circle cx="300.3" cy="171.1" r="3.5"/>
<circle cx="282.7" cy="230.0" r="3.5"/>
<circle cx="244.0" cy="126.3" r="3.5"/>
<circle cx="314.9" cy="170.2" r="3.5"/>
<circle cx="276.6" cy="200.5" r="3.5"/>
<circle cx="246.1" cy="237.9" r="3.5"/>
<circle cx="287.2" cy="226.8" r="3.5"/>
<circle cx="294.5" cy="130.8" r="3.5"/>
<circle cx="249.8" cy="121.2" r="3.5"/>
<circle cx="284.7" cy="149.4" r="3.5"/>
<circle cx="291.3" cy="257.8" r="3.5"/>
<circle cx="266.3" cy="116.3" r="3.5"/>
<circle cx="287.5" cy="109.9" r="3.5"/>
<circle cx="263.3" cy="137.5" r="3.5"/>
<circle cx="294.2" cy="143.3" r="3.5"/>
<circle cx="280.7" cy="249.2" r="3.5"/>
<circle cx="292.1" cy="255.2" r="3.5"/>
<circle cx="284.1" cy="192.4" r="3.5"/>
<circle cx="216.5" cy="129.8" r="3.5"/>
<circle cx="304.8" cy="216.0" r="3.5"/>
<circle cx="269.5" cy="165.6" r="3.5"/>
<circle cx="305.0" cy="255.6" r="3.5"/>
<circle cx="273.9" cy="209.1" r="3.5"/>
<circle cx="268.9" cy="115.6" r="3.5"/>
<circle cx="292.4" cy="167.4" r="3.5"/>
<circle cx="263.7" cy="178.1" r="3.5"/>
<circle cx="288.5" cy="247.1" r="3.5"/>
<circle cx="258.6" cy="173.9" r="3.5"/>
<circle cx="245.5" cy="153.9" r="3.5"/>
<circle cx="284.4" cy="250.3" r="3.5"/>
<circle cx="265.0" cy="162.0" r="3.5"/>
<circle cx="219.3" cy="160.9" r="3.5"/>
<circle cx="275.6" cy="217.3" r="3.5"/>
<circle cx="284.3" cy="121.3" r="3.5"/>
<circle cx="259.3" cy="279.5" r="3.5"/>
<circle cx="239.2" cy="124.6" r="3.5"/>
<circle cx="258.1" cy="186.9" r="3.5"/>
<circle cx="267.8" cy="132.4" r="3.5"/>
<circle cx="303.7" cy="210.9" r="3.5"/>
<circle cx="285.3" cy="227.6" r="3.5"/>
<circle cx="274.3" cy="211.3" r="3.5"/>
<circle cx="280.2" cy="126.6" r="3.5"/>
<circle cx="293.7" cy="175.4" r="3.5"/>
<circle cx="285.2" cy="272.7" r="3.5"/>
<circle cx="284.4" cy="257.8" r="3.5"/>
<circle cx="288.3" cy="195.7" r="3.5"/>
<circle cx="251.6" cy="110.4" r="3.5"/>
<circle cx="307.4" cy="130.1" r="3.5"/>
<circle cx="272.4" cy="213.9" r="3.5"/>
<circle cx="218.1" cy="119.0" r="3.5"/>
<circle cx="286.9" cy="189.9" r="3.5"/>
<circle cx="284.2" cy="101.4" r="3.5"/>
<circle cx="239.4" cy="160.3" r="3.5"/>
<circle cx="285.1" cy="254.0" r="3.5"/>
<circle cx="251.5" cy="130.0" r="3.5"/>
<circle cx="308.5" cy="150.0" r="3.5"/>
<circle cx="273.7" cy="286.0" r="3.5"/>
<circle cx="309.0" cy="203.2" r="3.5"/>
<circle cx="255.8" cy="270.9" r="3.5"/>
<circle cx="248.4" cy="114.3" r="3.5"/>
<circle cx="314.0" cy="172.6" r="3.5"/>
<circle cx="280.9" cy="79.3" r="3.5"/>
<circle cx="270.0" cy="179.1" r="3.5"/>
<circle cx="263.0" cy="101.1" r="3.5"/>
<circle cx="280.9" cy="160.4" r="3.5"/>
<circle cx="291.8" cy="233.3" r="3.5"/>
<circle cx="314.9" cy="230.6" r="3.5"/>
<circle cx="273.9" cy="174.5" r="3.5"/>
<circle cx="263.8" cy="210.5" r="3.5"/>
<circle cx="290.8" cy="174.0" r="3.5"/>
<circle cx="290.9" cy="258.5" r="3.5"/>
<circle cx="260.2" cy="124.0" r="3.5"/>
<circle cx="221.0" cy="158.7" r="3.5"/>
<circle cx="295.4" cy="136.1" r="3.5"/>
<circle cx="244.0" cy="156.7" r="3.5"/>
<circle cx="261.4" cy="171.8" r="3.5"/>
<circle cx="275.6" cy="94.4" r="3.5"/>
<circle cx="268.3" cy="274.7" r="3.5"/>
<circle cx="271.8" cy="256.9" r="3.5"/>
<circle cx="250.1" cy="265.3" r="3.5"/>
<circle cx="262.3" cy="124.0" r="3.5"/>
<circle cx="295.6" cy="188.9" r="3.5"/>
<circle cx="287.8" cy="258.3" r="3.5"/>
<circle cx="280.8" cy="221.3" r="3.5"/>
<circle cx="295.6" cy="249.4" r="3.5"/>
<circle cx="263.5" cy="78.0" r="3.5"/>
<circle cx="269.2" cy="277.1" r="3.5"/>
<circle cx="269.4" cy="248.4" r="3.5"/>
<circle cx="308.6" cy="205.2" r="3.5"/>
<circle cx="252.9" cy="253.4" r="3.5"/>
<circle cx="275.0" cy="154.1" r="3.5"/>
<circle cx="282.7" cy="114.2" r="3.5"/>
<circle cx="293.5" cy="210.8" r="3.5"/>
<circle cx="310.5" cy="238.4" r="3.5"/>
<circle cx="260.7" cy="123.9" r="3.5"/>
<circle cx="284.7" cy="175.1" r="3.5"/>
<circle cx="283.6" cy="179.2" r="3.5"/>
<circle cx="300.4" cy="241.5" r="3.5"/>
<circle cx="274.8" cy="255.1" r="3.5"/>
<circle cx="239.7" cy="125.3" r="3.5"/>
<circle cx="298.4" cy="110.4" r="3.5"/>
<circle cx="295.0" cy="252.5" r="3.5"/>
<circle cx="257.5" cy="112.4" r="3.5"/>
<circle cx="269.7" cy="254.3" r="3.5"/>
<circle cx="237.8" cy="118.1" r="3.5"/>
<circle cx="258.7" cy="306.6" r="3.5"/>
<circle cx="239.1" cy="176.0" r="3.5"/>
<circle cx="274.1" cy="142.5" r="3.5"/>
<circle cx="273.3" cy="242.0" r="3.5"/>
<circle cx="192.7" cy="120.4" r="3.5"/>
<circle cx="267.4" cy="141.4" r="3.5"/>
<circle cx="268.1" cy="170.8" r="3.5"/>
<circle cx="240.7" cy="242.4" r="3.5"/>
<circle cx="281.7" cy="108.8" r="3.5"/>
<circle cx="264.2" cy="234.6" r="3.5"/>
<circle cx="311.2" cy="202.2" r="3.5"/>
<circle cx="255.5" cy="124.1" r="3.5"/>
<circle cx="294.0" cy="193.9" r="3.5"/>
<circle cx="229.5" cy="81.0" r="3.5"/>
<circle cx="233.7" cy="174.8" r="3.5"/>
<circle cx="277.8" cy="204.4" r="3.5"/>
<circle cx="317.9" cy="186.6" r="3.5"/>
<circle cx="249.1" cy="149.1" r="3.5"/>
<circle cx="295.7" cy="235.1" r="3.5"/>
<circle cx="285.4" cy="150.3" r="3.5"/>
<circle cx="187.5" cy="184.8" r="3.5"/>
<circle cx="315.1" cy="159.7" r="3.5"/>
<circle cx="293.7" cy="230.3" r="3.5"/>
<circle cx="247.6" cy="109.7" r="3.5"/>
<circle cx="252.8" cy="256.7" r="3.5"/>
<circle cx="315.2" cy="168.9" r="3.5"/>
<circle cx="310.4" cy="224.6" r="3.5"/>
<circle cx="233.0" cy="148.6" r="3.5"/>
<circle cx="253.0" cy="271.8" r="3.5"/>
<circle cx="266.8" cy="131.2" r="3.5"/>
<circle cx="277.6" cy="111.5" r="3.5"/>
<circle cx="268.6" cy="249.3" r="3.5"/>
<circle cx="225.1" cy="170.0" r="3.5"/>
<circle cx="259.6" cy="149.4" r="3.5"/>
<circle cx="232.9" cy="101.9" r="3.5"/>
<circle cx="283.6" cy="152.0" r="3.5"/>
<circle cx="241.3" cy="131.3" r="3.5"/>
<circle cx="280.2" cy="165.0" r="3.5"/>
<circle cx="320.5" cy="205.7" r="3.5"/>
<circle cx="280.7" cy="195.9" r="3.5"/>
<circle cx="306.3" cy="224.4" r="3.5"/>
<circle cx="296.2" cy="168.0" r="3.5"/>
<circle cx="306.0" cy="182.0" r="3.5"/>
<circle cx="318.8" cy="160.0" r="3.5"/>
<circle cx="310.2" cy="207.4" r="3.5"/>
<circle cx="252.4" cy="237.4" r="3.5"/>
<circle cx="291.0" cy="220.0" r="3.5"/>
<circle cx="275.2" cy="144.7" r="3.5"/>
<circle cx="312.0" cy="222.5" r="3.5"/>
<circle cx="283.1" cy="224.6" r="3.5"/>
<circle cx="233.2" cy="126.5" r="3.5"/>
<circle cx="279.7" cy="184.9" r="3.5"/>
<circle cx="295.7" cy="189.7" r="3.5"/>
<circle cx="308.7" cy="142.6" r="3.5"/>
<circle cx="283.1" cy="170.3" r="3.5"/>
<circle cx="262.3" cy="126.9" r="3.5"/>
<circle cx="282.1" cy="214.9" r="3.5"/>
<circle cx="274.6" cy="172.0" r="3.5"/>
<circle cx="266.0" cy="220.4" r="3.5"/>
<circle cx="276.8" cy="255.6" r="3.5"/>
<circle cx="261.3" cy="147.1" r="3.5"/>
<circle cx="243.0" cy="130.1" r="3.5"/>
<circle cx="273.2" cy="208.0" r="3.5"/>
<circle cx="230.8" cy="191.4" r="3.5"/>
<circle cx="280.2" cy="246.4" r="3.5"/>
<circle cx="250.8" cy="268.4" r="3.5"/>
<circle cx="209.9" cy="140.2" r="3.5"/>
<circle cx="256.5" cy="161.8" r="3.5"/>
<circle cx="285.0" cy="251.1" r="3.5"/>
<circle cx="314.7" cy="217.7" r="3.5"/>
<circle cx="293.2" cy="116.3" r="3.5"/>
<circle cx="316.4" cy="197.6" r="3.5"/>
<circle cx="235.0" cy="166.6" r="3.5"/>
<circle cx="232.4" cy="81.0" r="3.5"/>
<circle cx="249.1" cy="216.7" r="3.5"/>
<circle cx="204.9" cy="136.5" r="3.5"/>
<circle cx="266.8" cy="282.0" r="3.5"/>
<circle cx="279.3" cy="164.4" r="3.5"/>
<circle cx="274.7" cy="221.7" r="3.5"/>
<circle cx="297.7" cy="154.5" r="3.5"/>
<circle cx="263.3" cy="231.1" r="3.5"/>
<circle cx="293.5" cy="216.1" r="3.5"/>
<circle cx="282.5" cy="167.5" r="3.5"/>
<circle cx="276.1" cy="174.7" r="3.5"/>
<circle cx="278.1" cy="204.6" r="3.5"/>
<circle cx="237.3" cy="118.5" r="3.5"/>
<circle cx="253.3" cy="162.9" r="3.5"/>
<circle cx="262.9" cy="201.2" r="3.5"/>
<circle cx="204.4" cy="144.4" r="3.5"/>
<circle cx="291.8" cy="197.7" r="3.5"/>
<circle cx="302.8" cy="187.5" r="3.5"/>
<circle cx="277.2" cy="102.3" r="3.5"/>
<circle cx="268.6" cy="203.2" r="3.5"/>
<circle cx="282.9" cy="139.7" r="3.5"/>
<circle cx="286.2" cy="181.6" r="3.5"/>
<circle cx="297.9" cy="251.9" r="3.5"/>
<circle cx="265.6" cy="120.0" r="3.5"/>
<circle cx="275.2" cy="163.9" r="3.5"/>
<circle cx="257.2" cy="95.2" r="3.5"/>
<circle cx="320.4" cy="171.9" r="3.5"/>
<circle cx="296.2" cy="173.2" r="3.5"/>
<circle cx="296.9" cy="246.8" r="3.5"/>
<circle cx="278.3" cy="196.0" r="3.5"/>
<circle cx="321.2" cy="186.7" r="3.5"/>
<circle cx="277.4" cy="150.1" r="3.5"/>
<circle cx="289.5" cy="121.3" r="3.5"/>
<circle cx="256.6" cy="138.3" r="3.5"/>
<circle cx="262.1" cy="159.9" r="3.5"/>
<circle cx="284.3" cy="290.5" r="3.5"/>
<circle cx="267.1" cy="245.8" r="3.5"/>
<circle cx="286.1" cy="241.5" r="3.5"/>
<circle cx="235.8" cy="119.3" r="3.5"/>
<circle cx="313.1" cy="208.0" r="3.5"/>
<circle cx="313.5" cy="214.5" r="3.5"/>
<circle cx="289.3" cy="146.3" r="3.5"/>
<circle cx="277.7" cy="249.7" r="3.5"/>
<circle cx="256.9" cy="225.0" r="3.5"/>
<circle cx="270.9" cy="76.5" r="3.5"/>
<circle cx="283.2" cy="206.2" r="3.5"/>
<circle cx="241.9" cy="290.2" r="3.5"/>
<circle cx="254.0" cy="136.7" r="3.5"/>
<circle cx="246.3" cy="158.6" r="3.5"/>
<circle cx="285.0" cy="155.1" r="3.5"/>
<circle cx="279.8" cy="219.1" r="3.5"/>
<circle cx="274.7" cy="230.8" r="3.5"/>
<circle cx="291.6" cy="169.0" r="3.5"/>
<circle cx="269.9" cy="122.7" r="3.5"/>
<circle cx="271.8" cy="235.1" r="3.5"/>
<circle cx="251.9" cy="133.7" r="3.5"/>
<circle cx="284.3" cy="120.9" r="3.5"/>
<circle cx="271.7" cy="117.8" r="3.5"/>
<circle cx="267.0" cy="202.9" r="3.5"/>
<circle cx="250.7" cy="186.9" r="3.5"/>
<circle cx="300.2" cy="224.1" r="3.5"/>
<circle cx="301.2" cy="169.9" r="3.5"/>
<circle cx="294.2" cy="218.9" r="3.5"/>
<circle cx="300.6" cy="213.9" r="3.5"/>
<circle cx="269.9" cy="296.1" r="3.5"/>
<circle cx="289.1" cy="274.7" r="3.5"/>
<circle cx="292.0" cy="135.6" r="3.5"/>
<circle cx="248.4" cy="163.7" r="3.5"/>
<circle cx="265.3" cy="108.3" r="3.5"/>
<circle cx="271.7" cy="210.3" r="3.5"/>
<circle cx="287.6" cy="267.4" r="3.5"/>
<circle cx="281.7" cy="105.1" r="3.5"/>
<circle cx="265.9" cy="244.2" r="3.5"/>
<circle cx="247.2" cy="172.7" r="3.5"/>
<circle cx="257.7" cy="135.3" r="3.5"/>
<circle cx="252.2" cy="266.8" r="3.5"/>
<circle cx="272.8" cy="264.2" r="3.5"/>
<circle cx="218.8" cy="149.1" r="3.5"/>
<circle cx="257.9" cy="136.8" r="3.5"/>
<circle cx="233.7" cy="135.1" r="3.5"/>
<circle cx="224.3" cy="62.6" r="3.5"/>
<circle cx="240.5" cy="159.3" r="3.5"/>
<circle cx="272.3" cy="238.4" r="3.5"/>
<circle cx="288.3" cy="193.9" r="3.5"/>
<circle cx="164.8" cy="96.5" r="3.5"/>
<circle cx="265.0" cy="205.6" r="3.5"/>
<circle cx="236.2" cy="148.6" r="3.5"/>
<circle cx="312.4" cy="143.4" r="3.5"/>
<circle cx="295.5" cy="234.0" r="3.5"/>
<circle cx="285.3" cy="226.0" r="3.5"/>
<circle cx="264.9" cy="135.0" r="3.5"/>
<circle cx="251.6" cy="138.1" r="3.5"/>
<circle cx="246.1" cy="124.0" r="3.5"/>
<circle cx="248.6" cy="108.1" r="3.5"/>
<circle cx="250.3" cy="114.7" r="3.5"/>
<circle cx="245.4" cy="71.8" r="3.5"/>
<circle cx="285.3" cy="137.5" r="3.5"/>
<circle cx="257.1" cy="235.9" r="3.5"/>
<circle cx="313.9" cy="281.9" r="3.5"/>
<circle cx="322.0" cy="222.5" r="3.5"/>
<circle cx="281.9" cy="150.0" r="3.5"/>
</g></g>
<rect x="38.0" y="19.6" width="325.5" height="325.0" fill="none" stroke="#555" stroke-width="1.3"/>
<line x1="67.42" y1="344.6" x2="67.42" y2="349.1" stroke="#555" stroke-width="0.9"/>
<text x="67.42" y="362" font-size="7.3" text-anchor="middle" fill="#222">-6</text>
<line x1="115.58" y1="344.6" x2="115.58" y2="349.1" stroke="#555" stroke-width="0.9"/>
<text x="115.58" y="362" font-size="7.3" text-anchor="middle" fill="#222">-4</text>
<line x1="163.74" y1="344.6" x2="163.74" y2="349.1" stroke="#555" stroke-width="0.9"/>
<text x="163.74" y="362" font-size="7.3" text-anchor="middle" fill="#222">-2</text>
<line x1="211.90" y1="344.6" x2="211.90" y2="349.1" stroke="#555" stroke-width="0.9"/>
<text x="211.90" y="362" font-size="7.3" text-anchor="middle" fill="#222">0</text>
<line x1="260.06" y1="344.6" x2="260.06" y2="349.1" stroke="#555" stroke-width="0.9"/>
<text x="260.06" y="362" font-size="7.3" text-anchor="middle" fill="#222">2</text>
<line x1="308.22" y1="344.6" x2="308.22" y2="349.1" stroke="#555" stroke-width="0.9"/>
<text x="308.22" y="362" font-size="7.3" text-anchor="middle" fill="#222">4</text>
<line x1="356.38" y1="344.6" x2="356.38" y2="349.1" stroke="#555" stroke-width="0.9"/>
<text x="356.38" y="362" font-size="7.3" text-anchor="middle" fill="#222">6</text>
<line x1="33.5" y1="339.60" x2="38.0" y2="339.60" stroke="#555" stroke-width="0.9"/>
<text transform="translate(27.5,339.60) rotate(-90)" font-size="7.3" text-anchor="middle" fill="#222">-4</text>
<line x1="33.5" y1="265.50" x2="38.0" y2="265.50" stroke="#555" stroke-width="0.9"/>
<text transform="translate(27.5,265.50) rotate(-90)" font-size="7.3" text-anchor="middle" fill="#222">-2</text>
<line x1="33.5" y1="191.40" x2="38.0" y2="191.40" stroke="#555" stroke-width="0.9"/>
<text transform="translate(27.5,191.40) rotate(-90)" font-size="7.3" text-anchor="middle" fill="#222">0</text>
<line x1="33.5" y1="117.30" x2="38.0" y2="117.30" stroke="#555" stroke-width="0.9"/>
<text transform="translate(27.5,117.30) rotate(-90)" font-size="7.3" text-anchor="middle" fill="#222">2</text>
<line x1="33.5" y1="43.20" x2="38.0" y2="43.20" stroke="#555" stroke-width="0.9"/>
<text transform="translate(27.5,43.20) rotate(-90)" font-size="7.3" text-anchor="middle" fill="#222">4</text>
<text x="201" y="378.7" font-size="7.3" text-anchor="middle" fill="#222">Component 1 ( 51.2 %)</text>
<text transform="translate(10,181.5) rotate(-90)" font-size="7.3" text-anchor="middle" fill="#222">Component 2 ( 13.6 %)</text>
<rect x="323.3" y="19.6" width="40.2" height="26.3" fill="#fff" stroke="#444" stroke-width="0.9"/>
<circle cx="329.8" cy="28.6" r="2" fill="none" stroke="#e8386a" stroke-width="0.9"/>
<circle cx="329.8" cy="37.2" r="2" fill="none" stroke="#4caf50" stroke-width="0.9"/>
<text x="336.6" y="31" font-size="7.3" fill="#222">Control</text>
<text x="336.6" y="39.6" font-size="7.3" fill="#222">MAP</text>
<rect x="480.4" y="32.5" width="241.10000000000002" height="292.1" fill="none" stroke="#444" stroke-width="1"/>
<line x1="480.9" y1="47.70" x2="721.0" y2="47.70" stroke="#d6d6d6" stroke-width="1"/>
<line x1="480.9" y1="63.10" x2="721.0" y2="63.10" stroke="#d6d6d6" stroke-width="1"/>
<line x1="480.9" y1="78.50" x2="721.0" y2="78.50" stroke="#d6d6d6" stroke-width="1"/>
<line x1="480.9" y1="93.90" x2="721.0" y2="93.90" stroke="#d6d6d6" stroke-width="1"/>
<line x1="480.9" y1="109.30" x2="721.0" y2="109.30" stroke="#d6d6d6" stroke-width="1"/>
<line x1="480.9" y1="124.70" x2="721.0" y2="124.70" stroke="#d6d6d6" stroke-width="1"/>
<line x1="480.9" y1="140.10" x2="721.0" y2="140.10" stroke="#d6d6d6" stroke-width="1"/>
<line x1="480.9" y1="155.50" x2="721.0" y2="155.50" stroke="#d6d6d6" stroke-width="1"/>
<line x1="480.9" y1="170.90" x2="721.0" y2="170.90" stroke="#d6d6d6" stroke-width="1"/>
<line x1="480.9" y1="186.30" x2="721.0" y2="186.30" stroke="#d6d6d6" stroke-width="1"/>
<line x1="480.9" y1="201.70" x2="721.0" y2="201.70" stroke="#d6d6d6" stroke-width="1"/>
<line x1="480.9" y1="217.10" x2="721.0" y2="217.10" stroke="#d6d6d6" stroke-width="1"/>
<line x1="480.9" y1="232.50" x2="721.0" y2="232.50" stroke="#d6d6d6" stroke-width="1"/>
<line x1="480.9" y1="247.90" x2="721.0" y2="247.90" stroke="#d6d6d6" stroke-width="1"/>
<line x1="480.9" y1="263.30" x2="721.0" y2="263.30" stroke="#d6d6d6" stroke-width="1"/>
<line x1="480.9" y1="278.70" x2="721.0" y2="278.70" stroke="#d6d6d6" stroke-width="1"/>
<line x1="480.9" y1="294.10" x2="721.0" y2="294.10" stroke="#d6d6d6" stroke-width="1"/>
<line x1="480.9" y1="309.50" x2="721.0" y2="309.50" stroke="#d6d6d6" stroke-width="1"/>
<circle cx="712.7" cy="47.70" r="2.75" fill="#555" stroke="#2a2a2a" stroke-width="0.7"/>
<text x="467.2" y="50.80" font-size="8.4" text-anchor="end" fill="#222" xml:space="preserve">8,11,14-Eicosa</text>
<rect x="731.5" y="42.70" width="10" height="10" fill="#2e3a9c" stroke="#333" stroke-width="0.6"/>
<rect x="743.5" y="42.70" width="10" height="10" fill="#b0002a" stroke="#333" stroke-width="0.6"/>
<circle cx="661.7" cy="63.10" r="2.75" fill="#555" stroke="#2a2a2a" stroke-width="0.7"/>
<text x="467.2" y="66.20" font-size="8.4" text-anchor="end" fill="#222" xml:space="preserve">Eicosenoic aci</text>
<rect x="731.5" y="58.10" width="10" height="10" fill="#2e3a9c" stroke="#333" stroke-width="0.6"/>
<rect x="743.5" y="58.10" width="10" height="10" fill="#b0002a" stroke="#333" stroke-width="0.6"/>
<circle cx="644.0" cy="78.50" r="2.75" fill="#555" stroke="#2a2a2a" stroke-width="0.7"/>
<text x="467.2" y="81.60" font-size="8.4" text-anchor="end" fill="#222" xml:space="preserve">6Z,9Z-octadeca</text>
<rect x="731.5" y="73.50" width="10" height="10" fill="#2e3a9c" stroke="#333" stroke-width="0.6"/>
<rect x="743.5" y="73.50" width="10" height="10" fill="#b0002a" stroke="#333" stroke-width="0.6"/>
<circle cx="642.0" cy="93.90" r="2.75" fill="#555" stroke="#2a2a2a" stroke-width="0.7"/>
<text x="467.2" y="97.00" font-size="8.4" text-anchor="end" fill="#222" xml:space="preserve">11,14-Eicosadi</text>
<rect x="731.5" y="88.90" width="10" height="10" fill="#2e3a9c" stroke="#333" stroke-width="0.6"/>
<rect x="743.5" y="88.90" width="10" height="10" fill="#b0002a" stroke="#333" stroke-width="0.6"/>
<circle cx="640.8" cy="109.30" r="2.75" fill="#555" stroke="#2a2a2a" stroke-width="0.7"/>
<text x="467.2" y="112.40" font-size="8.4" text-anchor="end" fill="#222" xml:space="preserve">Heptadecanoic </text>
<rect x="731.5" y="104.30" width="10" height="10" fill="#2e3a9c" stroke="#333" stroke-width="0.6"/>
<rect x="743.5" y="104.30" width="10" height="10" fill="#b0002a" stroke="#333" stroke-width="0.6"/>
<circle cx="638.9" cy="124.70" r="2.75" fill="#555" stroke="#2a2a2a" stroke-width="0.7"/>
<text x="467.2" y="127.80" font-size="8.4" text-anchor="end" fill="#222" xml:space="preserve">Carbocyclic th</text>
<rect x="731.5" y="119.70" width="10" height="10" fill="#2e3a9c" stroke="#333" stroke-width="0.6"/>
<rect x="743.5" y="119.70" width="10" height="10" fill="#b0002a" stroke="#333" stroke-width="0.6"/>
<circle cx="634.6" cy="140.10" r="2.75" fill="#555" stroke="#2a2a2a" stroke-width="0.7"/>
<text x="467.2" y="143.20" font-size="8.4" text-anchor="end" fill="#222" xml:space="preserve">10-Octadecenoi</text>
<rect x="731.5" y="135.10" width="10" height="10" fill="#2e3a9c" stroke="#333" stroke-width="0.6"/>
<rect x="743.5" y="135.10" width="10" height="10" fill="#b0002a" stroke="#333" stroke-width="0.6"/>
<circle cx="632.6" cy="155.50" r="2.75" fill="#555" stroke="#2a2a2a" stroke-width="0.7"/>
<text x="467.2" y="158.60" font-size="8.4" text-anchor="end" fill="#222" xml:space="preserve">10-Nonadecanoi</text>
<rect x="731.5" y="150.50" width="10" height="10" fill="#2e3a9c" stroke="#333" stroke-width="0.6"/>
<rect x="743.5" y="150.50" width="10" height="10" fill="#b0002a" stroke="#333" stroke-width="0.6"/>
<circle cx="625.5" cy="170.90" r="2.75" fill="#555" stroke="#2a2a2a" stroke-width="0.7"/>
<text x="467.2" y="174.00" font-size="8.4" text-anchor="end" fill="#222" xml:space="preserve">Cis-8,11,14,17</text>
<rect x="731.5" y="165.90" width="10" height="10" fill="#2e3a9c" stroke="#333" stroke-width="0.6"/>
<rect x="743.5" y="165.90" width="10" height="10" fill="#b0002a" stroke="#333" stroke-width="0.6"/>
<circle cx="605.6" cy="186.30" r="2.75" fill="#555" stroke="#2a2a2a" stroke-width="0.7"/>
<text x="467.2" y="189.40" font-size="8.4" text-anchor="end" fill="#222" xml:space="preserve">Docosahexaenoi</text>
<rect x="731.5" y="181.30" width="10" height="10" fill="#2e3a9c" stroke="#333" stroke-width="0.6"/>
<rect x="743.5" y="181.30" width="10" height="10" fill="#b0002a" stroke="#333" stroke-width="0.6"/>
<circle cx="603.7" cy="201.70" r="2.75" fill="#555" stroke="#2a2a2a" stroke-width="0.7"/>
<text x="467.2" y="204.80" font-size="8.4" text-anchor="end" fill="#222" xml:space="preserve">Palmitoleic ac</text>
<rect x="731.5" y="196.70" width="10" height="10" fill="#2e3a9c" stroke="#333" stroke-width="0.6"/>
<rect x="743.5" y="196.70" width="10" height="10" fill="#b0002a" stroke="#333" stroke-width="0.6"/>
<circle cx="566.5" cy="217.10" r="2.75" fill="#555" stroke="#2a2a2a" stroke-width="0.7"/>
<text x="467.2" y="220.20" font-size="8.4" text-anchor="end" fill="#222" xml:space="preserve">Eicosapentaeno</text>
<rect x="731.5" y="212.10" width="10" height="10" fill="#2e3a9c" stroke="#333" stroke-width="0.6"/>
<rect x="743.5" y="212.10" width="10" height="10" fill="#b0002a" stroke="#333" stroke-width="0.6"/>
<circle cx="558.5" cy="232.50" r="2.75" fill="#555" stroke="#2a2a2a" stroke-width="0.7"/>
<text x="467.2" y="235.60" font-size="8.4" text-anchor="end" fill="#222" xml:space="preserve">Alpha-Linoleni</text>
<rect x="731.5" y="227.50" width="10" height="10" fill="#2e3a9c" stroke="#333" stroke-width="0.6"/>
<rect x="743.5" y="227.50" width="10" height="10" fill="#b0002a" stroke="#333" stroke-width="0.6"/>
<circle cx="555.1" cy="247.90" r="2.75" fill="#555" stroke="#2a2a2a" stroke-width="0.7"/>
<text x="467.2" y="251.00" font-size="8.4" text-anchor="end" fill="#222" xml:space="preserve">17-HDoHE</text>
<rect x="731.5" y="242.90" width="10" height="10" fill="#2e3a9c" stroke="#333" stroke-width="0.6"/>
<rect x="743.5" y="242.90" width="10" height="10" fill="#b0002a" stroke="#333" stroke-width="0.6"/>
<circle cx="536.5" cy="263.30" r="2.75" fill="#555" stroke="#2a2a2a" stroke-width="0.7"/>
<text x="467.2" y="266.40" font-size="8.4" text-anchor="end" fill="#222" xml:space="preserve">5-Hete</text>
<rect x="731.5" y="258.30" width="10" height="10" fill="#2e3a9c" stroke="#333" stroke-width="0.6"/>
<rect x="743.5" y="258.30" width="10" height="10" fill="#b0002a" stroke="#333" stroke-width="0.6"/>
<circle cx="524.0" cy="278.70" r="2.75" fill="#555" stroke="#2a2a2a" stroke-width="0.7"/>
<text x="467.2" y="281.80" font-size="8.4" text-anchor="end" fill="#222" xml:space="preserve">Stearic acid</text>
<rect x="731.5" y="273.70" width="10" height="10" fill="#2e3a9c" stroke="#333" stroke-width="0.6"/>
<rect x="743.5" y="273.70" width="10" height="10" fill="#b0002a" stroke="#333" stroke-width="0.6"/>
<circle cx="511.5" cy="294.10" r="2.75" fill="#555" stroke="#2a2a2a" stroke-width="0.7"/>
<text x="467.2" y="297.20" font-size="8.4" text-anchor="end" fill="#222" xml:space="preserve">Palmitic acid</text>
<rect x="731.5" y="289.10" width="10" height="10" fill="#2e3a9c" stroke="#333" stroke-width="0.6"/>
<rect x="743.5" y="289.10" width="10" height="10" fill="#b0002a" stroke="#333" stroke-width="0.6"/>
<circle cx="488.3" cy="309.50" r="2.75" fill="#555" stroke="#2a2a2a" stroke-width="0.7"/>
<text x="467.2" y="312.60" font-size="8.4" text-anchor="end" fill="#222" xml:space="preserve">10,11-dihydro-</text>
<rect x="731.5" y="304.50" width="10" height="10" fill="#2e3a9c" stroke="#333" stroke-width="0.6"/>
<rect x="743.5" y="304.50" width="10" height="10" fill="#b0002a" stroke="#333" stroke-width="0.6"/>
<line x1="484.30" y1="325.6" x2="484.30" y2="331.6" stroke="#444" stroke-width="0.9"/>
<text x="484.30" y="349.7" font-size="10.2" text-anchor="middle" fill="#222">1.0</text>
<line x1="525.47" y1="325.6" x2="525.47" y2="331.6" stroke="#444" stroke-width="0.9"/>
<text x="525.47" y="349.7" font-size="10.2" text-anchor="middle" fill="#222">1.1</text>
<line x1="566.64" y1="325.6" x2="566.64" y2="331.6" stroke="#444" stroke-width="0.9"/>
<text x="566.64" y="349.7" font-size="10.2" text-anchor="middle" fill="#222">1.2</text>
<line x1="607.81" y1="325.6" x2="607.81" y2="331.6" stroke="#444" stroke-width="0.9"/>
<text x="607.81" y="349.7" font-size="10.2" text-anchor="middle" fill="#222">1.3</text>
<line x1="648.98" y1="325.6" x2="648.98" y2="331.6" stroke="#444" stroke-width="0.9"/>
<text x="648.98" y="349.7" font-size="10.2" text-anchor="middle" fill="#222">1.4</text>
<line x1="690.15" y1="325.6" x2="690.15" y2="331.6" stroke="#444" stroke-width="0.9"/>
<text x="690.15" y="349.7" font-size="10.2" text-anchor="middle" fill="#222">1.5</text>
<text x="601.2" y="374.9" font-size="10.8" text-anchor="middle" fill="#222">VIP scores</text>
<text transform="translate(734,37.2) rotate(-45)" font-size="8.4" fill="#222">Control</text>
<text transform="translate(747.2,36.2) rotate(-45)" font-size="8.4" fill="#222">MAP</text>
<defs><linearGradient id="cb" x1="0" y1="0" x2="0" y2="1"><stop offset="0" stop-color="#a50026"/><stop offset="0.1" stop-color="#d73027"/><stop offset="0.2" stop-color="#f46d43"/><stop offset="0.3" stop-color="#fdae61"/><stop offset="0.4" stop-color="#fee090"/><stop offset="0.5" stop-color="#ffffbf"/><stop offset="0.6" stop-color="#e0f3f8"/><stop offset="0.7" stop-color="#abd9e9"/><stop offset="0.8" stop-color="#74add1"/><stop offset="0.9" stop-color="#4575b4"/><stop offset="1" stop-color="#313695"/></linearGradient></defs>
<rect x="771.4" y="126" width="7.5" height="104.6" fill="url(#cb)"/>
<text x="766.8" y="119.8" font-size="8.4" fill="#222">High</text>
<text x="767.8" y="242.3" font-size="8.4" fill="#222">Low</text>
</svg></body></html>
